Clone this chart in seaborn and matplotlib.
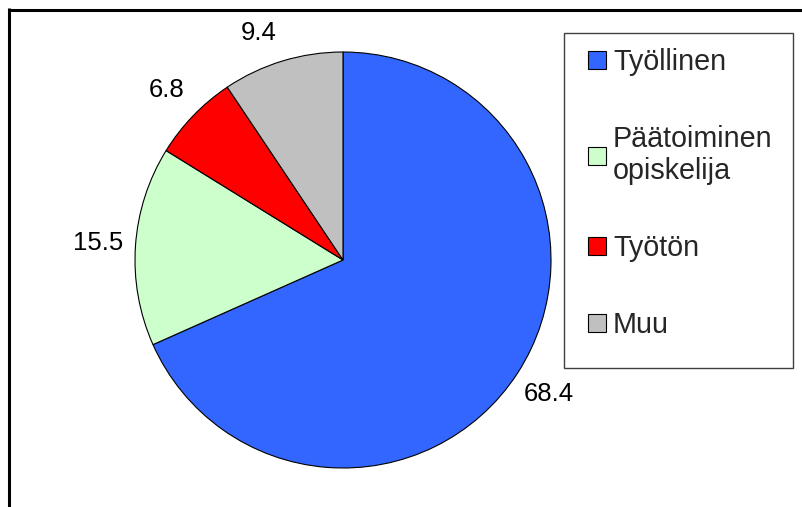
import matplotlib
matplotlib.use('Agg')
import matplotlib.pyplot as plt
import seaborn as sns
from matplotlib.patches import Rectangle, Patch
from matplotlib.lines import Line2D

categories = ['Työllinen', 'Päätoiminen\nopiskelija', 'Työtön', 'Muu']
values = [68.4, 15.5, 6.8, 9.4]
colors = ['#3366FF', '#CCFFCC', '#FF0000', '#C0C0C0']

sns.set_theme(style='white')
plt.rcParams['font.family'] = ['Liberation Sans', 'DejaVu Sans']

W, H = 803, 507
fig = plt.figure(figsize=(W / 100, H / 100), dpi=100)

# pie: centre (343, 260) px, radius 208 px, limits +-1.3
r_px = 208
lim = 1.3
side = 2 * lim * r_px
cx, cy = 343, 260
ax = fig.add_axes([(cx - side / 2) / W, (H - cy - side / 2) / H, side / W, side / H])

wedges, texts = ax.pie(values, colors=colors, startangle=90, counterclock=False,
                       labels=[f'{v:.1f}' for v in values], labeldistance=1.18,
                       wedgeprops=dict(edgecolor='black', linewidth=0.8),
                       textprops=dict(fontsize=18.5, color='black'))
for t in texts:
    t.set_ha('center')
    t.set_va('center')
# Excel nudges the top label a bit left/down
x4, y4 = texts[3].get_position()
texts[3].set_position((x4 - 0.06, y4 - 0.04))
ax.set_xlim(-lim, lim)
ax.set_ylim(-lim, lim)
ax.set_aspect('equal')
ax.axis('off')

# legend box
fig.add_artist(Rectangle((564 / W, 1 - 368 / H), (793 - 564) / W, (368 - 33) / H,
                         transform=fig.transFigure, facecolor='white',
                         edgecolor='#404040', linewidth=1.0, zorder=1))
handles = [Patch(facecolor=c, edgecolor='black', linewidth=0.8) for c in colors]
leg = fig.legend(handles, categories, loc='upper left',
                 bbox_to_anchor=(588 / W, 1 - 48 / H), frameon=False,
                 fontsize=20.7, handlelength=0.62, handleheight=0.62,
                 handletextpad=0.25, labelspacing=1.7, borderpad=0, borderaxespad=0)
leg.set_zorder(2)

# outer frame: top and left lines only
fig.add_artist(Line2D([8 / W, 1], [1 - 9.5 / H, 1 - 9.5 / H], transform=fig.transFigure,
                      color='black', linewidth=2.2, solid_capstyle='butt'))
fig.add_artist(Line2D([9.5 / W, 9.5 / W], [1 - 8 / H, 0], transform=fig.transFigure,
                      color='black', linewidth=2.2, solid_capstyle='butt'))

fig.savefig('out.png', dpi=100)
